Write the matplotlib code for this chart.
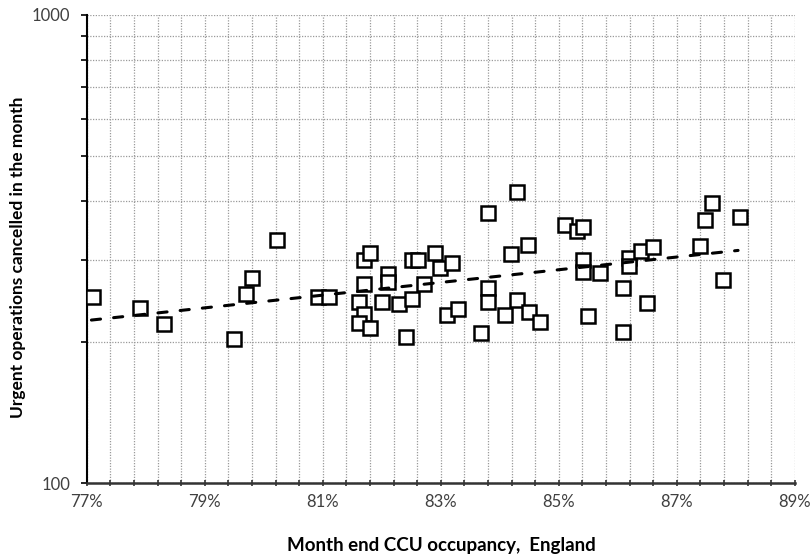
import numpy as np
import matplotlib.pyplot as plt
from matplotlib.ticker import FixedLocator, NullFormatter, FuncFormatter

plt.rcParams['font.family'] = ['Lato', 'DejaVu Sans']

# month end CCU occupancy (%) and urgent operations cancelled
occupancy = [77.11, 77.90, 78.31, 79.50, 79.70, 79.80, 80.22, 80.92, 81.10, 81.61,
             81.70, 81.81, 81.70, 81.70, 81.61, 81.81, 82.00, 82.11, 82.11, 82.30,
             82.51, 82.41, 82.51, 82.62, 82.71, 82.90, 82.99, 83.19, 83.10, 83.29,
             83.69, 83.80, 83.80, 83.80, 84.09, 84.19, 84.29, 84.29, 84.48, 84.49,
             84.68, 85.11, 85.31, 85.41, 85.41, 85.41, 85.50, 85.70, 86.09, 86.09,
             86.19, 86.19, 86.39, 86.59, 86.49, 87.39, 87.48, 87.59, 87.79, 88.08]
cancelled = [249.7, 237.1, 218.3, 202.8, 253.9, 274.7, 331.4, 249.7, 249.7, 243.9,
             300.3, 310.4, 266.1, 230.1, 219.7, 214.1, 243.3, 280.2, 268.9, 240.9,
             246.9, 204.8, 300.1, 300.1, 265.8, 309.7, 288.3, 295.5, 229.0, 235.9,
             209.6, 378.3, 261.3, 243.7, 229.0, 309.2, 418.6, 245.7, 322.1, 231.6,
             221.3, 355.3, 345.3, 352.4, 300.3, 282.4, 227.9, 281.6, 261.0, 210.2,
             302.0, 291.2, 312.7, 319.4, 243.0, 321.6, 364.2, 396.0, 271.5, 370.2]

# exponential trendline end points
trend_x = [77.08, 88.04]
trend_y = [223.1, 314.1]

x_labels = [77, 79, 81, 83, 85, 87, 89]
y_labels = [100, 1000]
y_grid = [200, 300, 400, 500, 600, 700, 800, 900]

fig = plt.figure(figsize=(8.11, 5.59), dpi=100)
ax = fig.add_axes([86.7 / 811, 1 - 483.4 / 559, 708 / 811, 468.7 / 559])

ax.plot(occupancy, cancelled, linestyle='none', marker='s', markersize=10.5,
        markerfacecolor='white', markeredgecolor='black', markeredgewidth=1.8, zorder=3)
ax.plot(trend_x, trend_y, color='black', linewidth=2.2, linestyle=(0, (3, 4.3)),
        dash_capstyle='round', zorder=4)

ax.set_yscale('log')
ax.set_ylim(100, 1000)
ax.set_xlim(77, 89)

ax.yaxis.set_major_locator(FixedLocator(y_labels))
ax.yaxis.set_major_formatter(FuncFormatter(lambda v, p: '%d' % v))
ax.yaxis.set_minor_locator(FixedLocator(y_grid))
ax.yaxis.set_minor_formatter(NullFormatter())

ax.xaxis.set_major_locator(FixedLocator(x_labels))
ax.xaxis.set_major_formatter(FuncFormatter(lambda v, p: '%d%%' % round(v)))
ax.xaxis.set_minor_locator(FixedLocator(np.arange(77.4, 89, 0.4)))

ax.grid(True, which='both', color='#9a9a9a', linestyle=(0, (1, 1.2)), linewidth=0.9)
ax.set_axisbelow(True)

for s in ['top', 'right']:
    ax.spines[s].set_visible(False)
ax.spines['left'].set_color('black')
ax.spines['left'].set_linewidth(1.5)
ax.spines['bottom'].set_color('#333333')
ax.spines['bottom'].set_linewidth(1.8)

ax.tick_params(axis='x', which='both', direction='inout', length=5, width=1.2,
               color='#333333', labelsize=12, labelcolor='#404040', pad=5)
ax.tick_params(axis='y', which='both', direction='out', length=4, width=1.2,
               color='black', labelsize=12, labelcolor='#404040', pad=8)

fig.text(441 / 811, 1 - 546 / 559, 'Month end CCU occupancy,  England',
         ha='center', va='center', fontsize=13.5, fontweight='bold')
fig.text(18 / 811, 1 - 257 / 559, 'Urgent operations cancelled in the month',
         ha='center', va='center', rotation=90, fontsize=12.5, fontweight='bold')

fig.savefig('out.png', dpi=100)
